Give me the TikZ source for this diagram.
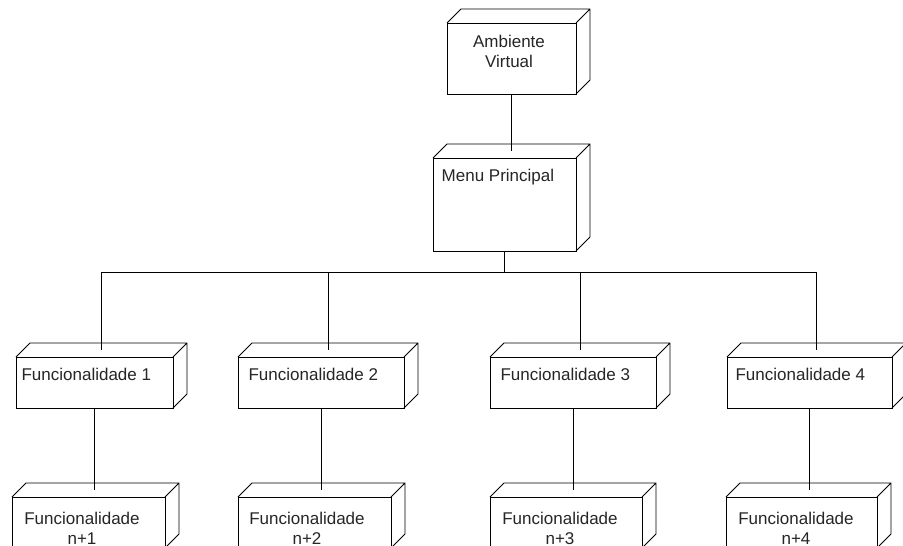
\documentclass[tikz,border=0pt]{standalone}
\usepackage{fontspec}
\setmainfont{Liberation Sans}
\usetikzlibrary{calc}

\begin{document}
\begin{tikzpicture}[x=1pt,y=-1pt,
  every node/.style={inner sep=0pt, outer sep=0pt},
  front/.style={draw, line width=0.8pt, rectangle},
  txt/.style={font=\fontsize{17pt}{20pt}\selectfont, text=black!85, inner sep=0pt},
  wire/.style={line width=0.8pt}]
  \clip (0,0) rectangle (903,546);
  \fill[white] (0,0) rectangle (903,546);

  % front faces of the boxes
  \node[front, minimum width=129pt, minimum height=71pt,
        label={[txt, anchor=north, align=center, xshift=-2.5pt, yshift=-12.6pt]north:Ambiente\\Virtual}]
        (amb) at (511.5,58.5) {};
  \node[front, minimum width=143pt, minimum height=93pt,
        label={[txt, anchor=north west, xshift=8.7pt, yshift=-11pt]north west:Menu Principal}]
        (menu) at (504.5,204.5) {};

  \node[front, minimum width=157pt, minimum height=51pt,
        label={[txt, anchor=north west, xshift=5.6pt, yshift=-11pt]north west:Funcionalidade 1}]
        (f1) at (94.5,382.5) {};
  \node[front, minimum width=166pt, minimum height=51pt,
        label={[txt, anchor=north west, xshift=10.6pt, yshift=-11pt]north west:Funcionalidade 2}]
        (f2) at (321,382.5) {};
  \node[front, minimum width=166pt, minimum height=51pt,
        label={[txt, anchor=north west, xshift=10.6pt, yshift=-11pt]north west:Funcionalidade 3}]
        (f3) at (573,382.5) {};
  \node[front, minimum width=165pt, minimum height=51pt,
        label={[txt, anchor=north west, xshift=8.6pt, yshift=-11pt]north west:Funcionalidade 4}]
        (f4) at (809.5,382.5) {};

  \node[front, minimum width=153pt, minimum height=51pt,
        label={[txt, anchor=north, align=center, xshift=-6.5pt, yshift=-15pt]north:Funcionalidade\\n+1}]
        (n1) at (88.5,522.5) {};
  \node[front, minimum width=153pt, minimum height=51pt,
        label={[txt, anchor=north, align=center, xshift=-7.5pt, yshift=-15pt]north:Funcionalidade\\n+2}]
        (n2) at (314.5,522.5) {};
  \node[front, minimum width=152pt, minimum height=51pt,
        label={[txt, anchor=north, align=center, xshift=-6pt, yshift=-15pt]north:Funcionalidade\\n+3}]
        (n3) at (566,522.5) {};
  \node[front, minimum width=151pt, minimum height=51pt,
        label={[txt, anchor=north, align=center, xshift=-5.5pt, yshift=-15pt]north:Funcionalidade\\n+4}]
        (n4) at (801.5,522.5) {};

  % depth faces (top and right side) of every box
  \foreach \b in {amb,menu,f1,f2,f3,f4,n1,n2,n3,n4} {
    \draw[wire, line join=miter]
      (\b.north west) -- ++(14pt,14pt) -| ($(\b.south east)+(14pt,14pt)$) -- (\b.south east)
      (\b.north east) -- ++(14pt,14pt);
    \coordinate (\b-top) at ($(\b.north)+(7pt,7pt)$);
  }

  % connectors
  \draw[wire] (amb.south) -- (menu-top);
  \foreach \f in {f1,f2,f3,f4}
    \draw[wire] (menu.south) -- ++(0,21) -| (\f-top);
  \foreach \f/\n in {f1/n1,f2/n2,f3/n3,f4/n4}
    \draw[wire] (\f.south) -- (\f.south |- \n-top);
\end{tikzpicture}
\end{document}
